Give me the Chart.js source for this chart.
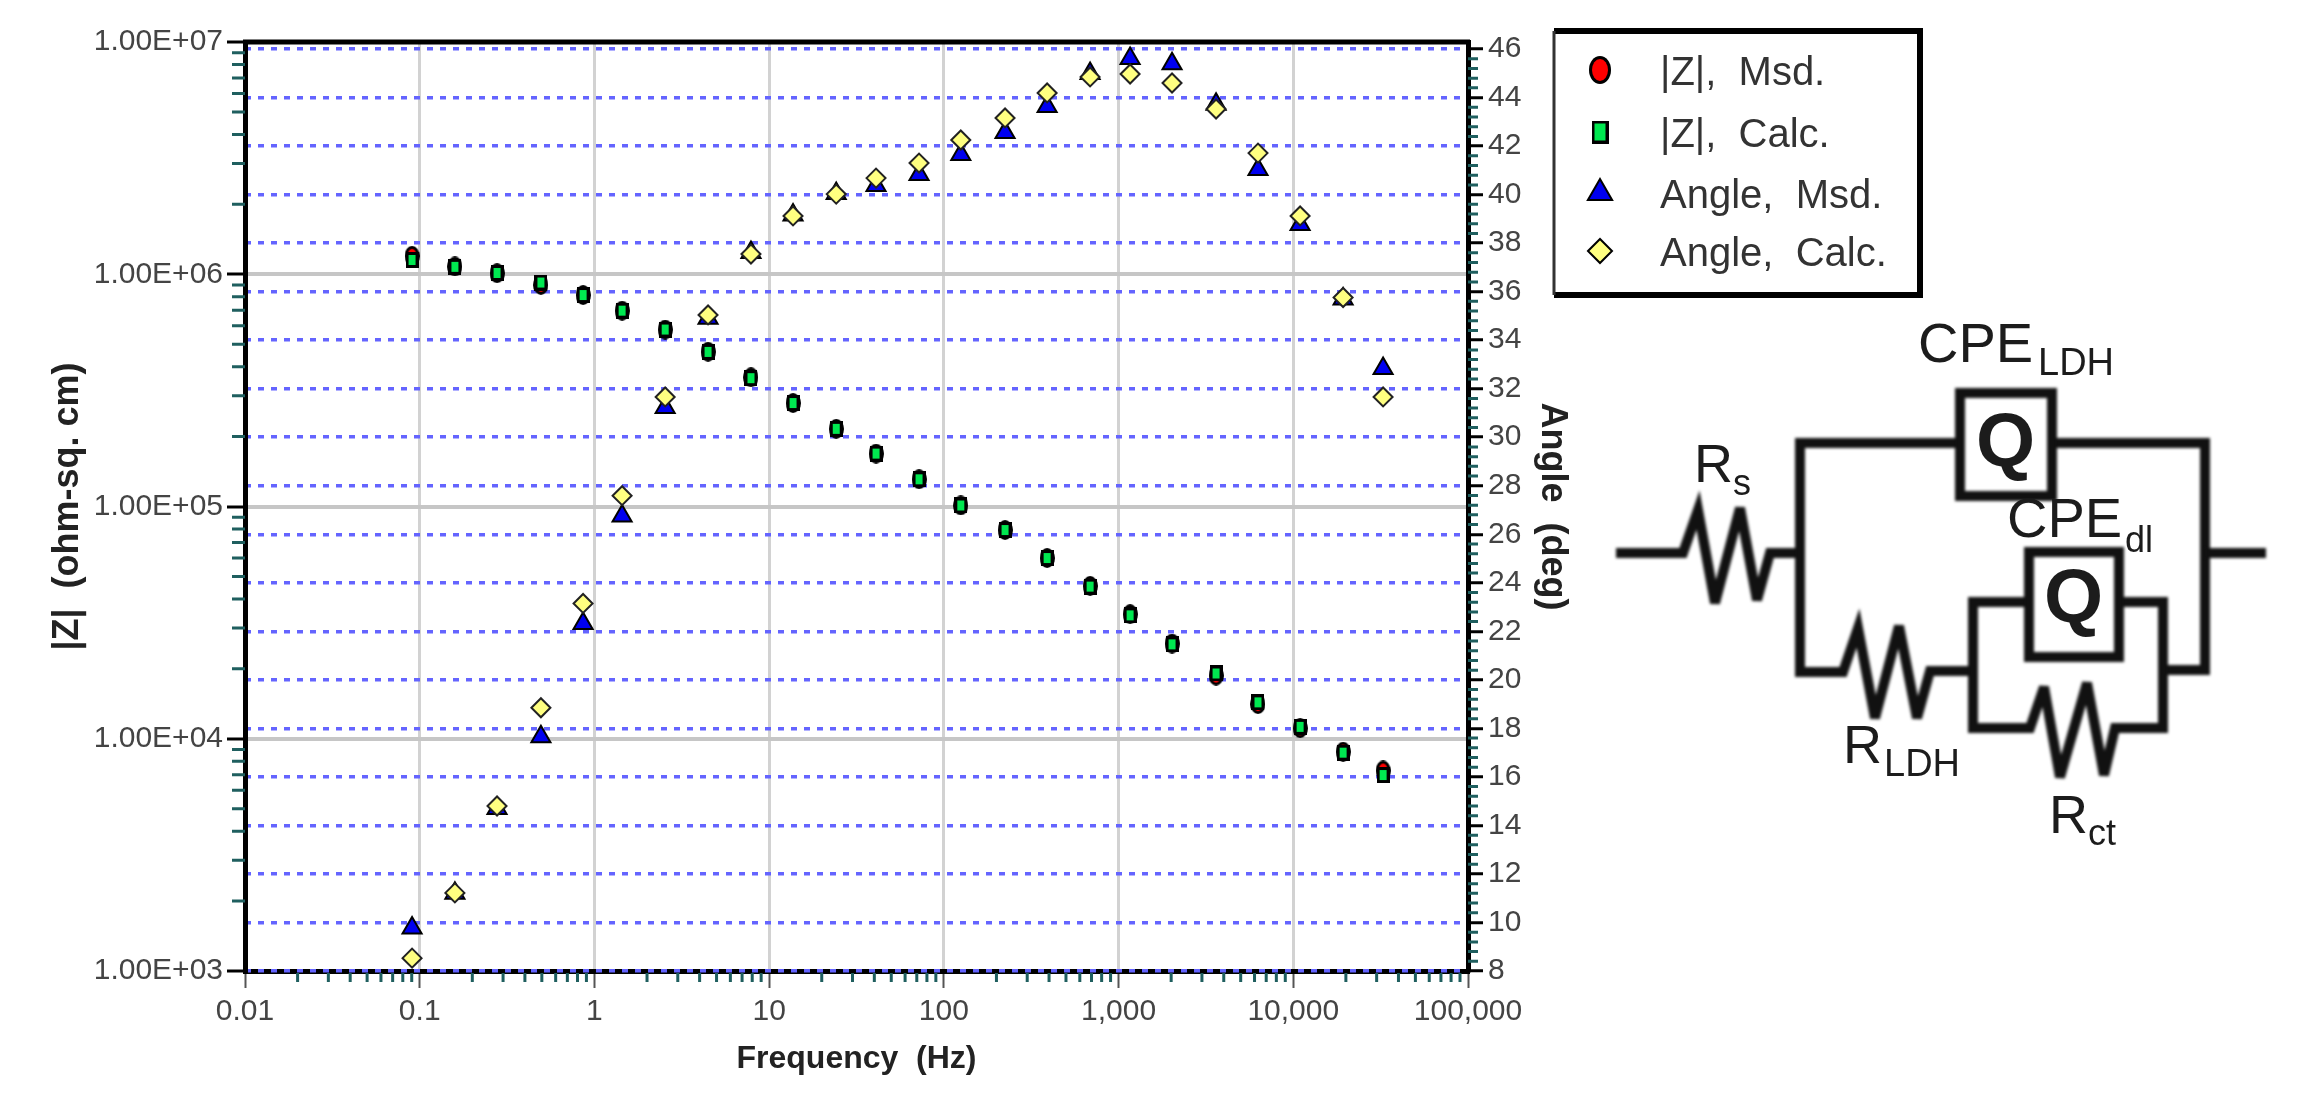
<!DOCTYPE html>
<html>
<head>
<meta charset="utf-8">
<title>Bode plot</title>
<script src="https://cdn.jsdelivr.net/npm/chart.js@4/dist/chart.umd.min.js"></script>
<style>
  html, body { margin: 0; padding: 0; background: #fff; overflow: hidden; }
  #wrap { position: relative; width: 2297px; height: 1108px; }
  #bode { position: absolute; left: 0; top: 0; filter: blur(0.6px); }
  #circuit { position: absolute; left: 0; top: 0; pointer-events: none; }
  #circuit text { font-family: "Liberation Sans", Arial, sans-serif; fill: #1c1c1c; }
  #circuit .wire { fill: none; stroke: #111; stroke-width: 10; stroke-linejoin: miter; filter: blur(1.4px); }
  #circuit .q { font-weight: bold; font-size: 76px; }
</style>
</head>
<body>
<div id="wrap">
  <canvas id="bode" width="2297" height="1108"></canvas>
  <svg id="circuit" width="2297" height="1108" viewBox="0 0 2297 1108">
    <!-- Rs and outer branches -->
    <path class="wire" d="M1616 553 H1683 L1698 510 L1715 603 L1740 508 L1757 600 L1770 553 H1800"/>
    <path class="wire" d="M1960 443 H1800 V672 H1843 L1858 628 L1875 718 L1899 626 L1917 718 L1930 671 H1973"/>
    <path class="wire" d="M2052 443 H2205 V670 H2163"/>
    <path class="wire" d="M2205 553 H2266"/>
    <rect class="wire" x="1960" y="393" width="92" height="103"/>
    <!-- inner parallel loop -->
    <path class="wire" d="M2029 602 H1973 V728 H2030 L2044 687 L2060 777 L2087 683 L2104 775 L2115 728 H2163 V602 H2119"/>
    <rect class="wire" x="2029" y="552" width="90" height="105"/>
    <text class="q" x="1976" y="466">Q</text>
    <text class="q" x="2044" y="622">Q</text>
    <text x="1694" y="482" font-size="54">R</text>
    <text x="1733" y="495" font-size="36">s</text>
    <text x="1918" y="362" font-size="56">CPE</text>
    <text x="2038" y="375" font-size="38">LDH</text>
    <text x="2007" y="537" font-size="56">CPE</text>
    <text x="2125" y="552" font-size="36">dl</text>
    <text x="1843" y="763" font-size="54">R</text>
    <text x="1884" y="776" font-size="38">LDH</text>
    <text x="2049" y="833" font-size="54">R</text>
    <text x="2088" y="845" font-size="36">ct</text>
  </svg>
</div>
<script>
// values
const frequency = [0.0904, 0.159, 0.277, 0.494, 0.861, 1.44, 2.54, 4.47, 7.87, 13.7, 24.2, 40.9,
                   72.1, 125, 224, 390, 687, 1164, 2023, 3614, 6281, 10940, 19280, 32660];
const zMeasured = [1.2e6, 1.08e6, 1.01e6, 9.0e5, 8.14e5, 6.97e5, 5.78e5, 4.64e5, 3.6e5, 2.79e5, 2.16e5, 1.69e5,
                   1.31e5, 1.01e5, 7.92e4, 6.0e4, 4.55e4, 3.44e4, 2.57e4, 1.87e4, 1.41e4, 1.11e4, 8.8e3, 7.3e3];
const zCalculated = [1.152e6, 1.076e6, 1.013e6, 9.21e5, 8.14e5, 6.97e5, 5.78e5, 4.63e5, 3.57e5, 2.79e5, 2.16e5, 1.69e5,
                     1.31e5, 1.01e5, 7.92e4, 6.0e4, 4.52e4, 3.4e4, 2.55e4, 1.91e4, 1.435e4, 1.125e4, 8.71e3, 6.98e3];
const angleMeasured = [9.77, 11.2, 14.7, 17.65, 22.32, 26.75, 31.23, 34.9, 37.61, 39.16, 40.05, 40.38,
                       40.83, 41.65, 42.56, 43.63, 44.99, 45.61, 45.39, 43.72, 41.04, 38.77, 35.7, 32.83];
const angleCalculated = [8.53, 11.22, 14.8, 18.85, 23.15, 27.59, 31.66, 35.04, 37.55, 39.12, 40.02, 40.68,
                         41.3, 42.25, 43.16, 44.19, 44.85, 44.97, 44.6, 43.53, 41.71, 39.12, 35.76, 31.66];

const xTickValues = [0.01, 0.1, 1, 10, 100, 1000, 10000, 100000];
const xTickLabels = ['0.01', '0.1', '1', '10', '100', '1,000', '10,000', '100,000'];
const zTickValues = [1e3, 1e4, 1e5, 1e6, 1e7];
const zTickLabels = ['1.00E+03', '1.00E+04', '1.00E+05', '1.00E+06', '1.00E+07'];
const angleTickValues = [8, 10, 12, 14, 16, 18, 20, 22, 24, 26, 28, 30, 32, 34, 36, 38, 40, 42, 44, 46];
const legendLabels = ['|Z|,  Msd.', '|Z|,  Calc.', 'Angle,  Msd.', 'Angle,  Calc.'];

const FONT = '"Liberation Sans", Arial, sans-serif';
const TICK_TEAL = '#1f5f5f';
const RED = '#ff0000';
const GREEN = '#00e850';

function points(ys) {
    return frequency.map((f, i) => ({ x: f, y: ys[i] }));
}

// the source markers are taller than wide, so circle and square are small sprites
function sprite(w, h, draw) {
    const c = document.createElement('canvas');
    c.width = w;
    c.height = h;
    draw(c.getContext('2d'));
    return c;
}

function ellipseMarker(w, h, fill) {
    return sprite(w, h, g => {
        g.fillStyle = '#000';
        g.beginPath();
        g.ellipse(w / 2, h / 2, w / 2, h / 2, 0, 0, Math.PI * 2);
        g.fill();
        g.fillStyle = fill;
        g.beginPath();
        g.ellipse(w / 2, h / 2, w / 2 - 3, h / 2 - 3, 0, 0, Math.PI * 2);
        g.fill();
    });
}

function rectMarker(w, h, fill) {
    return sprite(w, h, g => {
        g.fillStyle = '#000';
        g.fillRect(0, 0, w, h);
        g.fillStyle = fill;
        g.fillRect(3, 3, w - 6, h - 6);
    });
}

// keep only the labelled ticks, the short teal ones come from the plugin below
function useTicks(values) {
    return function(scale) {
        scale.ticks = values.map(v => ({ value: v }));
    };
}

function fixSize(prop, size) {
    return function(scale) {
        scale[prop] = size;
        scale.paddingTop = scale.paddingBottom = scale.paddingLeft = scale.paddingRight = 0;
    };
}

const minorTicks = {
    id: 'minorTicks',
    beforeDatasetsDraw(chart) {
        const ctx = chart.ctx, area = chart.chartArea;
        const x = chart.scales.x, yZ = chart.scales.yZ, yA = chart.scales.yAngle;
        ctx.save();
        // top edge of the frame
        ctx.strokeStyle = '#000';
        ctx.lineWidth = 5;
        ctx.beginPath();
        ctx.moveTo(area.left - 2, area.top);
        ctx.lineTo(area.right + 2, area.top);
        ctx.stroke();

        ctx.strokeStyle = TICK_TEAL;
        ctx.lineWidth = 3;
        ctx.beginPath();
        xTickValues.slice(0, -1).forEach(d => {
            for (let m = 2; m <= 9; m++) {
                const px = x.getPixelForValue(d * m);
                ctx.moveTo(px, area.bottom + 2);
                ctx.lineTo(px, area.bottom + 11);
            }
        });
        zTickValues.slice(0, -1).forEach(d => {
            for (let m = 2; m <= 9; m++) {
                const py = yZ.getPixelForValue(d * m);
                ctx.moveTo(area.left, py);
                ctx.lineTo(area.left - 13, py);
            }
        });
        for (let i = 0; i <= 95; i++) {
            if (i % 5 === 0) continue;
            const py = yA.getPixelForValue(8 + i * 0.4);
            ctx.moveTo(area.right, py);
            ctx.lineTo(area.right + 10, py);
        }
        ctx.stroke();
        ctx.restore();
    }
};

// boxed legend to the right of the plot
const boxLegend = {
    id: 'boxLegend',
    afterDraw(chart) {
        const ctx = chart.ctx;
        ctx.save();
        ctx.strokeStyle = '#000';
        ctx.lineWidth = 6;
        ctx.beginPath();
        ctx.moveTo(1554, 31);
        ctx.lineTo(1920, 31);
        ctx.lineTo(1920, 295);
        ctx.lineTo(1554, 295);
        ctx.stroke();
        ctx.lineWidth = 3;
        ctx.strokeStyle = '#333';
        ctx.beginPath();
        ctx.moveTo(1554, 31);
        ctx.lineTo(1554, 295);
        ctx.stroke();

        const rows = [70, 132, 193, 251];
        const styles = [ellipseMarker(22, 28, RED), rectMarker(17, 23, GREEN), 'triangle', 'rectRot'];
        const radii = [0, 0, 14, 12];
        ctx.font = '40px ' + FONT;
        ctx.textAlign = 'left';
        ctx.textBaseline = 'alphabetic';
        legendLabels.forEach((label, i) => {
            const ds = chart.data.datasets[i];
            ctx.fillStyle = ds.pointBackgroundColor;
            ctx.strokeStyle = '#000';
            ctx.lineWidth = ds.pointBorderWidth;
            Chart.helpers.drawPoint(ctx, {
                pointStyle: styles[i],
                radius: radii[i],
                rotation: 0,
                borderWidth: ds.pointBorderWidth
            }, 1600, rows[i]);
            ctx.fillStyle = '#333';
            ctx.fillText(label, 1660, rows[i] + 15);
        });
        ctx.restore();
    }
};

new Chart(document.getElementById('bode').getContext('2d'), {
    type: 'scatter',
    data: {
        datasets: [
            { label: legendLabels[0], data: points(zMeasured), yAxisID: 'yZ', order: 4,
              pointStyle: ellipseMarker(15, 20, RED), pointRadius: 8, pointBackgroundColor: RED, pointBorderColor: '#000', pointBorderWidth: 3 },
            { label: legendLabels[1], data: points(zCalculated), yAxisID: 'yZ', order: 3,
              pointStyle: rectMarker(13, 16, GREEN), pointRadius: 8, pointBackgroundColor: GREEN, pointBorderColor: '#000', pointBorderWidth: 3 },
            { label: legendLabels[2], data: points(angleMeasured), yAxisID: 'yAngle', order: 2,
              pointStyle: 'triangle', pointRadius: 11, pointBackgroundColor: '#0000f0', pointBorderColor: '#000', pointBorderWidth: 2 },
            { label: legendLabels[3], data: points(angleCalculated), yAxisID: 'yAngle', order: 1,
              pointStyle: 'rectRot', pointRadius: 9.5, pointBackgroundColor: '#ffff80', pointBorderColor: '#222', pointBorderWidth: 2 }
        ]
    },
    options: {
        responsive: false,
        animation: false,
        devicePixelRatio: 1,
        clip: false,
        layout: { padding: { left: 0, top: 42, right: 717, bottom: 18 } },
        plugins: { legend: { display: false }, title: { display: false }, tooltip: { enabled: false } },
        scales: {
            x: {
                type: 'logarithmic',
                min: 0.01,
                max: 100000,
                afterBuildTicks: useTicks(xTickValues),
                afterFit: fixSize('height', 119),
                // border has to stay above its own grid layer, the blue dots of the 8 deg line sit on top of it
                border: { display: true, color: '#000', width: 5, z: -2 },
                grid: { z: -3, color: c => c.tick.value === 0.01 ? 'transparent' : '#d2d2d2',
                        lineWidth: 3, tickColor: '#555', tickWidth: 2, tickLength: 17 },
                ticks: {
                    autoSkip: false, maxRotation: 0, padding: 6, color: '#444',
                    font: { family: FONT, size: 30 },
                    callback: v => xTickLabels[xTickValues.indexOf(v)]
                },
                title: { display: true, text: 'Frequency  (Hz)', color: '#222', padding: { top: 0, bottom: 12 },
                         font: { family: FONT, size: 32, weight: 'bold' } }
            },
            yZ: {
                type: 'logarithmic',
                position: 'left',
                min: 1e3,
                max: 1e7,
                afterBuildTicks: useTicks(zTickValues),
                afterFit: fixSize('width', 245),
                border: { display: true, color: '#000', width: 5 },
                grid: { color: c => c.tick.value === 1e3 ? 'transparent' : '#c6c6c6',
                        lineWidth: 4, tickColor: '#000', tickWidth: 3, tickLength: 18 },
                ticks: {
                    autoSkip: false, padding: 4, color: '#444',
                    font: { family: FONT, size: 30 },
                    callback: v => zTickLabels[zTickValues.indexOf(v)]
                },
                title: { display: true, text: '|Z|  (ohm-sq. cm)', color: '#222', padding: { top: 46, bottom: 0 },
                         font: { family: FONT, size: 36, weight: 'bold' } }
            },
            yAngle: {
                type: 'linear',
                position: 'right',
                min: 8,
                max: 46.29,
                afterBuildTicks: useTicks(angleTickValues),
                afterFit: fixSize('width', 112),
                border: { display: true, color: '#000', width: 5, dash: [6, 7] },
                grid: { color: '#6464ff', lineWidth: 3.5, tickColor: '#000', tickWidth: 3, tickLength: 15,
                        tickBorderDash: [] },
                ticks: {
                    autoSkip: false, padding: 5, color: '#444',
                    font: { family: FONT, size: 30 },
                    callback: v => String(v)
                },
                title: { display: true, text: 'Angle  (deg)', color: '#222', padding: { top: 6, bottom: 0 },
                         font: { family: FONT, size: 36, weight: 'bold' } }
            }
        }
    },
    plugins: [minorTicks, boxLegend]
});
</script>
</body>
</html>
